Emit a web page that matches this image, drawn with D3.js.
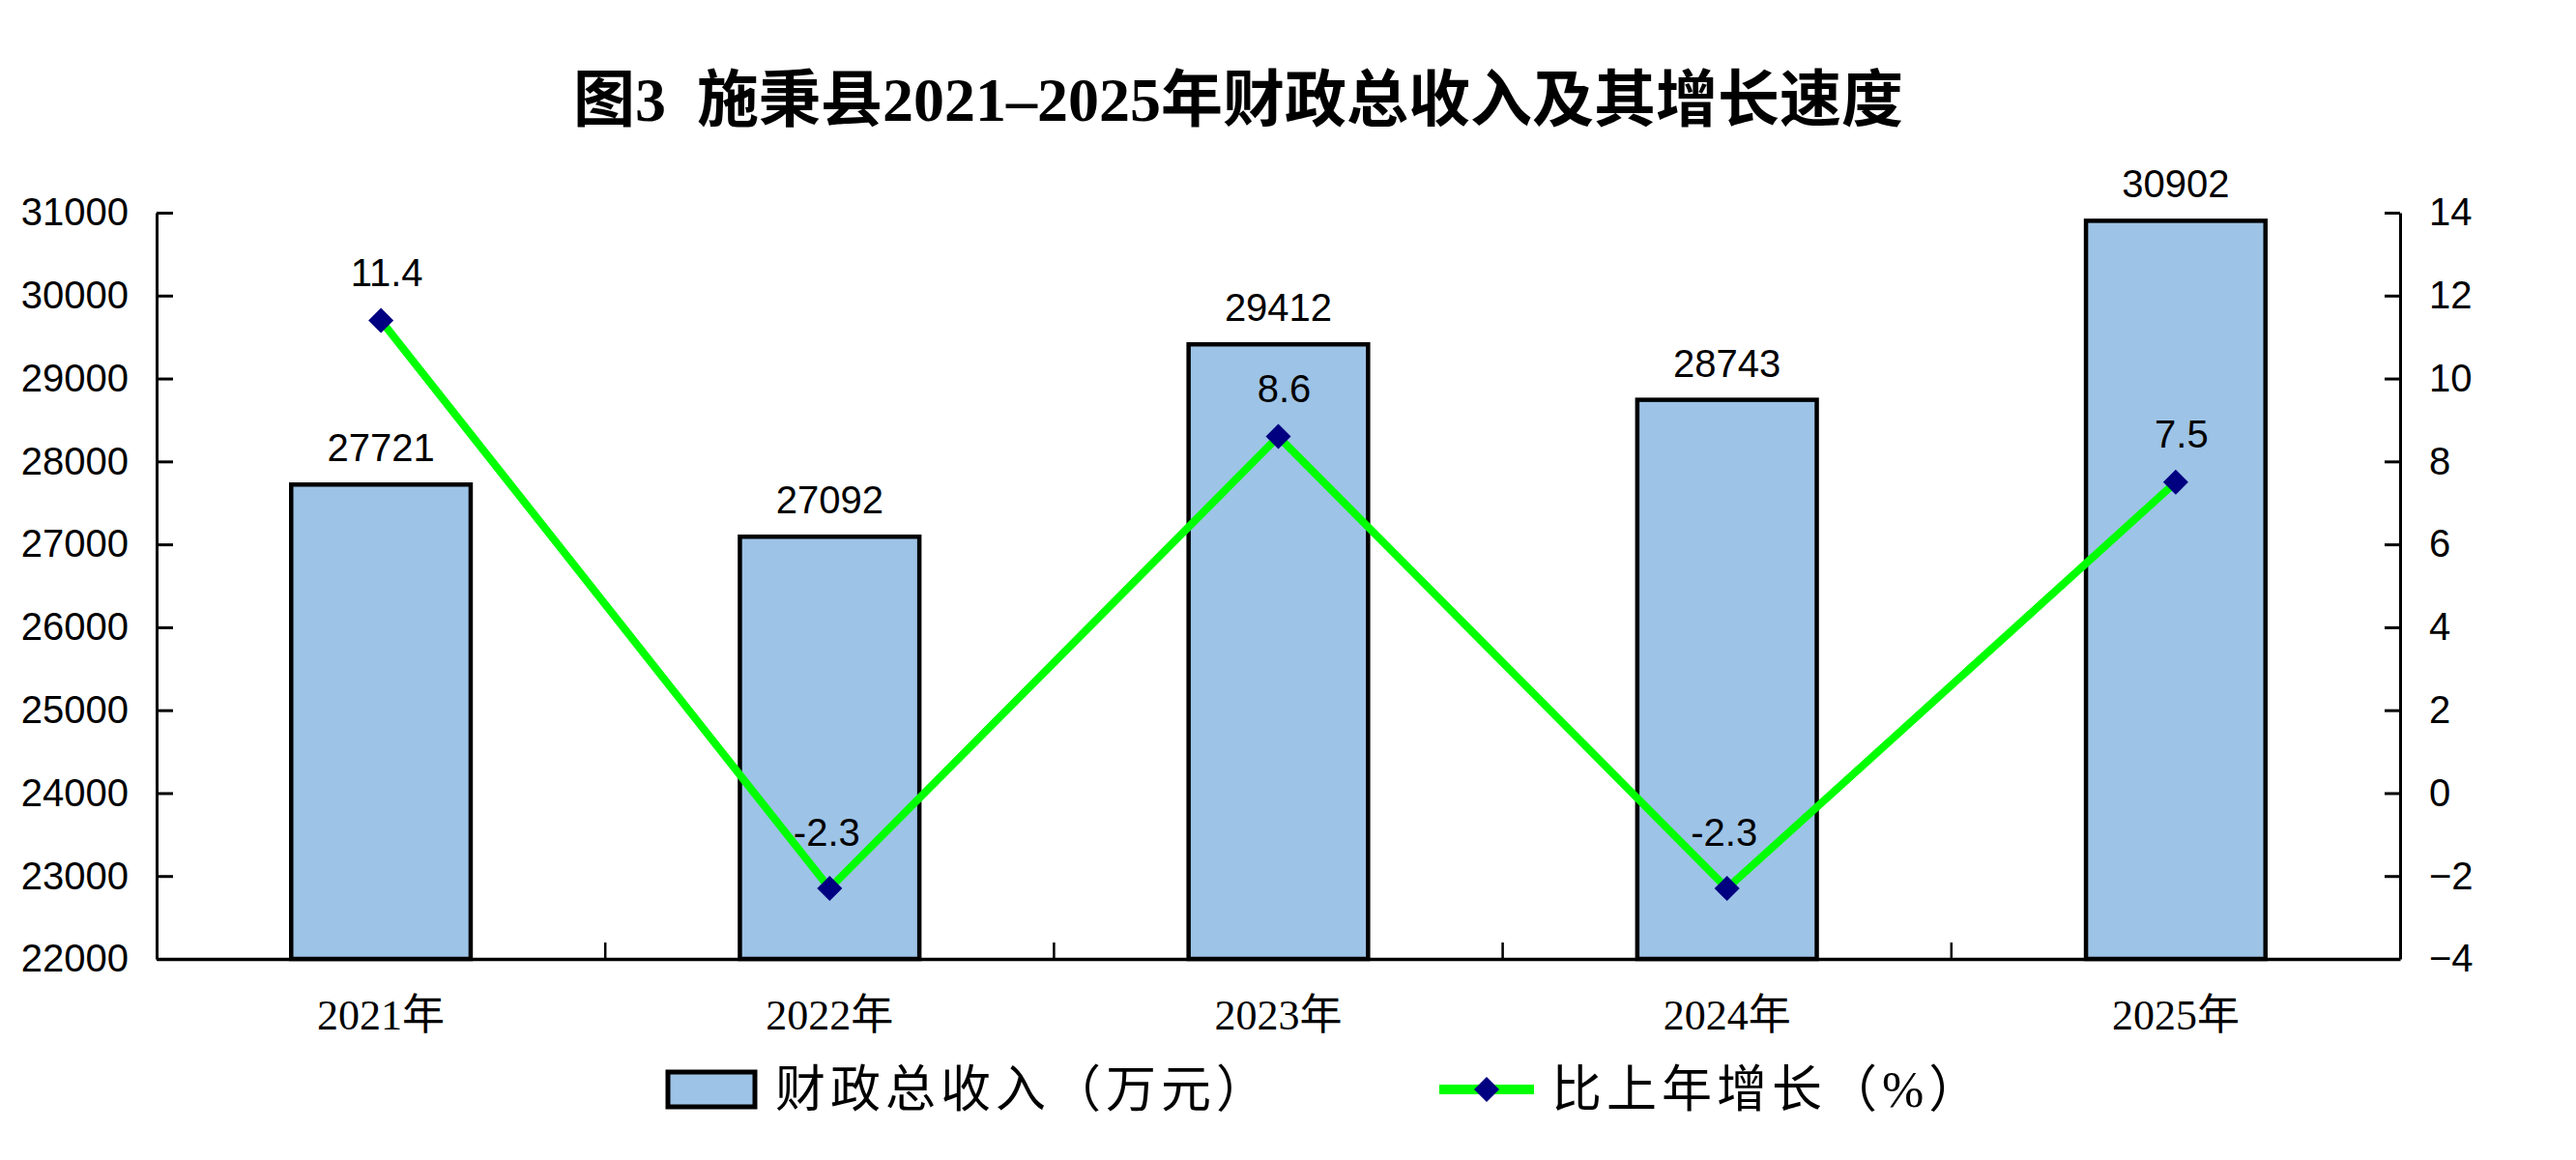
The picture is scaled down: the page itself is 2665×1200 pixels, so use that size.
<!DOCTYPE html>
<html><head><meta charset="utf-8">
<script src="https://cdn.jsdelivr.net/npm/d3@7/dist/d3.min.js"></script>
<style>
html,body{margin:0;padding:0;background:#fff;}
svg{display:block;}
</style></head>
<body>
<svg id="chart" width="2665" height="1200"></svg>
<script>
const categories = ["2021年","2022年","2023年","2024年","2025年"];
const revenue = [27721, 27092, 29412, 28743, 30902];
const growth = [11.4, -2.3, 8.6, -2.3, 7.5];
const leftTicks = [22000,23000,24000,25000,26000,27000,28000,29000,30000,31000];
const rightTicks = [-4,-2,0,2,4,6,8,10,12,14];
const titleText = "图3  施秉县2021–2025年财政总收入及其增长速度";
const legendBar = "财政总收入（万元）";
const legendLine = "比上年增长（%）";

const svg = d3.select("#chart");
const L = 162, R = 2483, T = 220, B = 992;
const numFont = "'Liberation Sans', Arial, sans-serif";
const serifFont = "'Liberation Serif', 'Times New Roman', 'Noto Sans CJK SC', serif";

const x = d3.scaleBand().domain(categories).range([L, R]).padding(0);
const yL = d3.scaleLinear().domain([22000, 31000]).range([B, T]);
const yR = d3.scaleLinear().domain([-4, 14]).range([B, T]);
const barW = x.bandwidth() * 0.4;

// title
svg.append("text").attr("x", 1281).attr("y", 125).attr("text-anchor", "middle")
  .style("white-space", "pre")
  .attr("font-family", "'Liberation Serif', 'Noto Sans CJK SC', serif")
  .attr("font-weight", "bold").attr("font-size", 64).attr("fill", "#000").text(titleText);

// bars
svg.append("g").selectAll("rect").data(revenue).join("rect")
  .attr("x", (d, i) => x(categories[i]) + x.bandwidth() / 2 - barW / 2)
  .attr("y", d => yL(d))
  .attr("width", barW)
  .attr("height", d => B - yL(d))
  .attr("fill", "#9DC3E6").attr("stroke", "#000").attr("stroke-width", 4.5);

// bar labels
svg.append("g").selectAll("text").data(revenue).join("text")
  .attr("x", (d, i) => x(categories[i]) + x.bandwidth() / 2)
  .attr("y", d => yL(d) - 24)
  .attr("text-anchor", "middle").attr("font-family", numFont).attr("font-size", 40)
  .attr("fill", "#000").text(d => d);

// left axis
const axL = d3.axisLeft(yL).tickValues(leftTicks).tickSizeInner(-17).tickSizeOuter(0).tickPadding(29).tickFormat(d3.format("d"));
const gL = svg.append("g").attr("transform", `translate(${L},0)`).call(axL);
// right axis
const axR = d3.axisRight(yR).tickValues(rightTicks).tickSizeInner(-16).tickSizeOuter(0).tickPadding(30).tickFormat(d3.format("d"));
const gR = svg.append("g").attr("transform", `translate(${R},0)`).call(axR);
// bottom axis
const axB = d3.axisBottom(x).tickSize(0).tickPadding(0);
const gB = svg.append("g").attr("transform", `translate(0,${B})`).call(axB);

[gL, gR].forEach(g => {
  g.select(".domain").attr("stroke", "#000").attr("stroke-width", 3);
  g.selectAll(".tick line").attr("stroke", "#000").attr("stroke-width", 3);
  g.selectAll(".tick text").attr("font-family", numFont).attr("font-size", 40).attr("fill", "#000");
});
gR.selectAll(".tick text").attr("text-anchor", "start");
gB.select(".domain").attr("stroke", "#000").attr("stroke-width", 3.5);
gB.selectAll(".tick text").attr("font-family", serifFont).attr("font-size", 44)
  .attr("fill", "#000").attr("dy", "0").attr("y", 73);

// category separator ticks
svg.append("g").selectAll("line").data(categories.slice(1)).join("line")
  .attr("x1", d => x(d)).attr("x2", d => x(d))
  .attr("y1", B).attr("y2", B - 17)
  .attr("stroke", "#000").attr("stroke-width", 2.5);

// growth line
const line = d3.line().x((d, i) => x(categories[i]) + x.bandwidth() / 2).y(d => yR(d));
svg.append("path").datum(growth).attr("d", line)
  .attr("fill", "none").attr("stroke", "#00FF00").attr("stroke-width", 8).attr("stroke-linejoin", "miter");

const diamond = s => `M0,${-s}L${s},0L0,${s}L${-s},0Z`;
svg.append("g").selectAll("path").data(growth).join("path")
  .attr("transform", (d, i) => `translate(${x(categories[i]) + x.bandwidth() / 2},${yR(d)})`)
  .attr("d", diamond(13)).attr("fill", "#000080");

svg.append("g").selectAll("text").data(growth).join("text")
  .attr("x", (d, i) => x(categories[i]) + x.bandwidth() / 2 + (d < 0 ? -3 : 6))
  .attr("y", d => yR(d) - (d < 0 ? 44 : 36))
  .attr("text-anchor", "middle").attr("font-family", numFont).attr("font-size", 40)
  .attr("fill", "#000").text(d => d.toFixed(1));

// legend
const lg = svg.append("g");
lg.append("rect").attr("x", 691).attr("y", 1109).attr("width", 90).attr("height", 36)
  .attr("fill", "#9DC3E6").attr("stroke", "#000").attr("stroke-width", 5);
lg.append("text").attr("x", 802).attr("y", 1145).attr("font-family", serifFont)
  .attr("font-size", 52).attr("letter-spacing", 5).attr("fill", "#000").text(legendBar);
lg.append("line").attr("x1", 1489).attr("x2", 1587).attr("y1", 1127).attr("y2", 1127)
  .attr("stroke", "#00FF00").attr("stroke-width", 10);
lg.append("path").attr("transform", "translate(1538,1127)").attr("d", diamond(13)).attr("fill", "#000080");
lg.append("text").attr("x", 1605).attr("y", 1145).attr("font-family", serifFont)
  .attr("font-size", 52).attr("letter-spacing", 5).attr("fill", "#000").text(legendLine);
</script>
</body></html>
